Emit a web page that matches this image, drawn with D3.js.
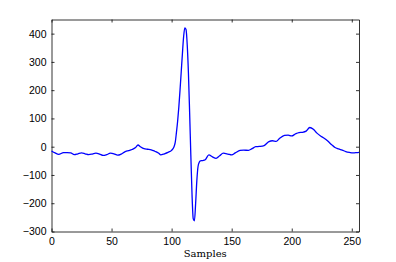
<!DOCTYPE html>
<html>
<head>
<meta charset="utf-8">
<script src="https://cdn.jsdelivr.net/npm/d3@7"></script>
<style>
  body { margin: 0; background: #fff; }
  .axis text { font-family: "Liberation Sans", Arial, sans-serif; font-size: 10.5px; fill: #000; }
  .axis path, .axis line { stroke: #000; stroke-width: 0.8; }
</style>
</head>
<body>
<div id="chart"></div>
<script>
// signal (sample index, value)
var samples = [0, 3, 6, 10, 13, 16, 19, 22, 25, 28, 31, 34, 37, 40, 43, 46, 49, 52, 55, 58, 61, 64, 67, 70, 72, 74, 77, 80, 83, 86, 89, 91, 94, 97, 100,
    101, 102, 103, 104, 105, 106, 107, 108, 109, 110, 111, 112, 113, 114, 115, 116, 117, 118, 119, 120, 121, 122, 123, 124,
    126, 128, 131, 134, 137, 140, 143, 147, 150, 153, 157, 160, 164, 167, 170, 173, 177, 181, 184, 187, 190, 194, 197, 200, 203, 206, 209, 212, 215, 218, 221, 224, 227, 230, 233, 236, 239, 242, 245, 248, 251, 254, 256];
var values = [-15, -22, -27, -21, -21, -22, -28, -25, -22, -25, -28, -26, -23, -26, -31, -28, -23, -25, -30, -26, -18, -14, -10, -3, 6, 0, -7, -9, -11, -16, -22, -29, -25, -20, -13,
    -8, 0, 15, 50, 90, 140, 200, 265, 330, 390, 420, 415, 360, 260, 120, -30, -170, -255, -262, -200, -120, -70, -55, -50,
    -49, -46, -29, -36, -41, -32, -23, -26, -29, -22, -13, -12, -13, -7, 0, 1, 4, 18, 21, 19, 30, 40, 41, 38, 45, 50, 51, 55, 68, 62, 48, 38, 30, 20, 8, -3, -8, -12, -17, -20, -22, -21, -20];
var xTicks = [0, 50, 100, 150, 200, 250];
var yTicks = [-300, -200, -100, 0, 100, 200, 300, 400];

var W = 396, H = 262;
var svg = d3.select("#chart").append("svg")
    .attr("width", W)
    .attr("height", H);

var x = d3.scaleLinear().domain([0, 256]).range([51.5, 359]);
var y = d3.scaleLinear().domain([-300, 450]).range([231.5, 19.5]);

var data = samples.map(function(s, i) { return { s: s, v: values[i] }; });

svg.append("g")
    .attr("class", "axis")
    .attr("transform", "translate(0,231.5)")
    .call(d3.axisBottom(x).tickValues(xTicks).tickSizeInner(-3).tickSizeOuter(0).tickPadding(6));

svg.append("g")
    .attr("class", "axis")
    .attr("transform", "translate(0,19.5)")
    .call(d3.axisTop(x).tickValues(xTicks).tickSizeInner(-3).tickSizeOuter(0).tickFormat(""));

svg.append("g")
    .attr("class", "axis")
    .attr("transform", "translate(51.5,0)")
    .call(d3.axisLeft(y).tickValues(yTicks).tickSizeInner(-3).tickSizeOuter(0).tickPadding(5));

svg.append("g")
    .attr("class", "axis")
    .attr("transform", "translate(359,0)")
    .call(d3.axisRight(y).tickValues(yTicks).tickSizeInner(-3).tickSizeOuter(0).tickFormat(""));

svg.append("path")
    .datum(data)
    .attr("fill", "none")
    .attr("stroke", "#0000ff")
    .attr("stroke-width", 1.3)
    .attr("d", d3.line()
        .x(function(d) { return x(d.s); })
        .y(function(d) { return y(d.v); })
        .curve(d3.curveMonotoneX)
    );

svg.append("text")
    .attr("x", (51.5 + 359) / 2)
    .attr("y", 257)
    .attr("text-anchor", "middle")
    .style("font-family", "'DejaVu Serif', serif")
    .style("font-size", "10px")
    .text("Samples");
</script>
</body>
</html>
